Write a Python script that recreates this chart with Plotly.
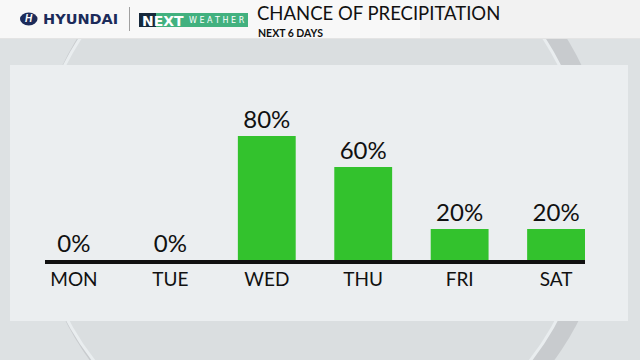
import plotly.graph_objects as go

days = ["MON", "TUE", "WED", "THU", "FRI", "SAT"]
precip = [0, 0, 80, 60, 20, 20]
labels = [f"{v}%" for v in precip]

W, H = 640, 360
ML, MR, MT, MB = 45, 55, 105, 100
PW, PH = W - ML - MR, H - MT - MB

def px(x):
    return (x - ML) / PW

def py(y):
    return (H - MB - y) / PH

FONT = "Lato"

fig = go.Figure()
fig.add_trace(go.Bar(
    x=days, y=precip, text=labels, textposition="outside",
    textfont=dict(family=FONT, size=24, color="#111111"),
    marker=dict(color="#33c22d", line=dict(width=0)),
    width=0.6, cliponaxis=False, hoverinfo="skip",
))

def circ(cx, cy, r, fill, line=None):
    return dict(type="circle", xref="paper", yref="paper", layer="below",
                x0=px(cx - r), x1=px(cx + r), y0=py(cy + r), y1=py(cy - r),
                fillcolor=fill, line=line or dict(width=0))

def rect(x0, y0, x1, y1, fill, layer="below"):
    return dict(type="rect", xref="paper", yref="paper", layer=layer,
                x0=px(x0), x1=px(x1), y0=py(y1), y1=py(y0),
                fillcolor=fill, line=dict(width=0))

shapes = [
    circ(322, 190, 288, "#c8cbce"),
    circ(312, 190, 277, "#dadee0", dict(color="#e9edef", width=3)),
    rect(10, 65, 628, 321, "#ebeef0"),
    rect(0, 0, 640, 39, "#f8f8f8"),
    rect(420, 0, 640, 39, "#f2f2f2"),
    rect(0, 38, 640, 39, "#e4e4e4"),
    dict(type="circle", xref="paper", yref="paper", layer="above",
         x0=px(20), x1=px(37.5), y0=py(25.5), y1=py(12.5),
         fillcolor="#1c2b5a", line=dict(width=0)),
    dict(type="line", xref="paper", yref="paper",
         x0=px(129.5), x1=px(129.5), y0=py(31), y1=py(7),
         line=dict(color="#a0a0a0", width=1)),
    rect(139, 13, 156, 27, "#16283a", "above"),
    rect(156, 13, 248, 27, "#42b17f", "above"),
]

def ann(text, x, y, size, color, family=FONT, xanchor="left", yanchor="middle"):
    return dict(text=text, x=px(x), y=py(y), xref="paper", yref="paper",
                xanchor=xanchor, yanchor=yanchor, showarrow=False, align="left",
                font=dict(family=family, size=size, color=color))

annotations = [
    ann("<b><i>H</i></b>", 28.8, 19, 10, "#ffffff", "Liberation Sans", "center"),
    ann("<b>HYUNDAI</b>", 41, 19, 14.5, "#1c2b5a", "DejaVu Sans"),
    ann("<b>NEXT</b>", 140, 20.5, 14, "#ffffff", "DejaVu Sans"),
    ann("W E A T H E R", 187, 20.5, 8, "#ffffff", "DejaVu Sans"),
    ann("CHANCE OF PRECIPITATION", 255, 26, 18.5, "#111111", yanchor="bottom"),
    ann("<b>NEXT 6 DAYS</b>", 256, 25, 10.5, "#111111", yanchor="top"),
]

fig.update_layout(
    width=W, height=H,
    margin=dict(l=ML, r=MR, t=MT, b=MB, pad=0, autoexpand=False),
    paper_bgcolor="#dde1e3", plot_bgcolor="rgba(0,0,0,0)",
    showlegend=False, shapes=shapes, annotations=annotations,
    font=dict(family=FONT),
)
fig.update_xaxes(
    range=[-0.3, len(days) - 0.7], showline=True, linecolor="#111111", linewidth=4,
    showgrid=False, zeroline=False, ticks="", ticklabelstandoff=-1, automargin=False,
    tickfont=dict(family=FONT, size=19, color="#111111"), fixedrange=True,
)
fig.update_yaxes(range=[0, 100], visible=False, fixedrange=True, automargin=False)

fig.write_html("out.html", config={"displayModeBar": False},
               post_script="document.body.style.margin='0';")
